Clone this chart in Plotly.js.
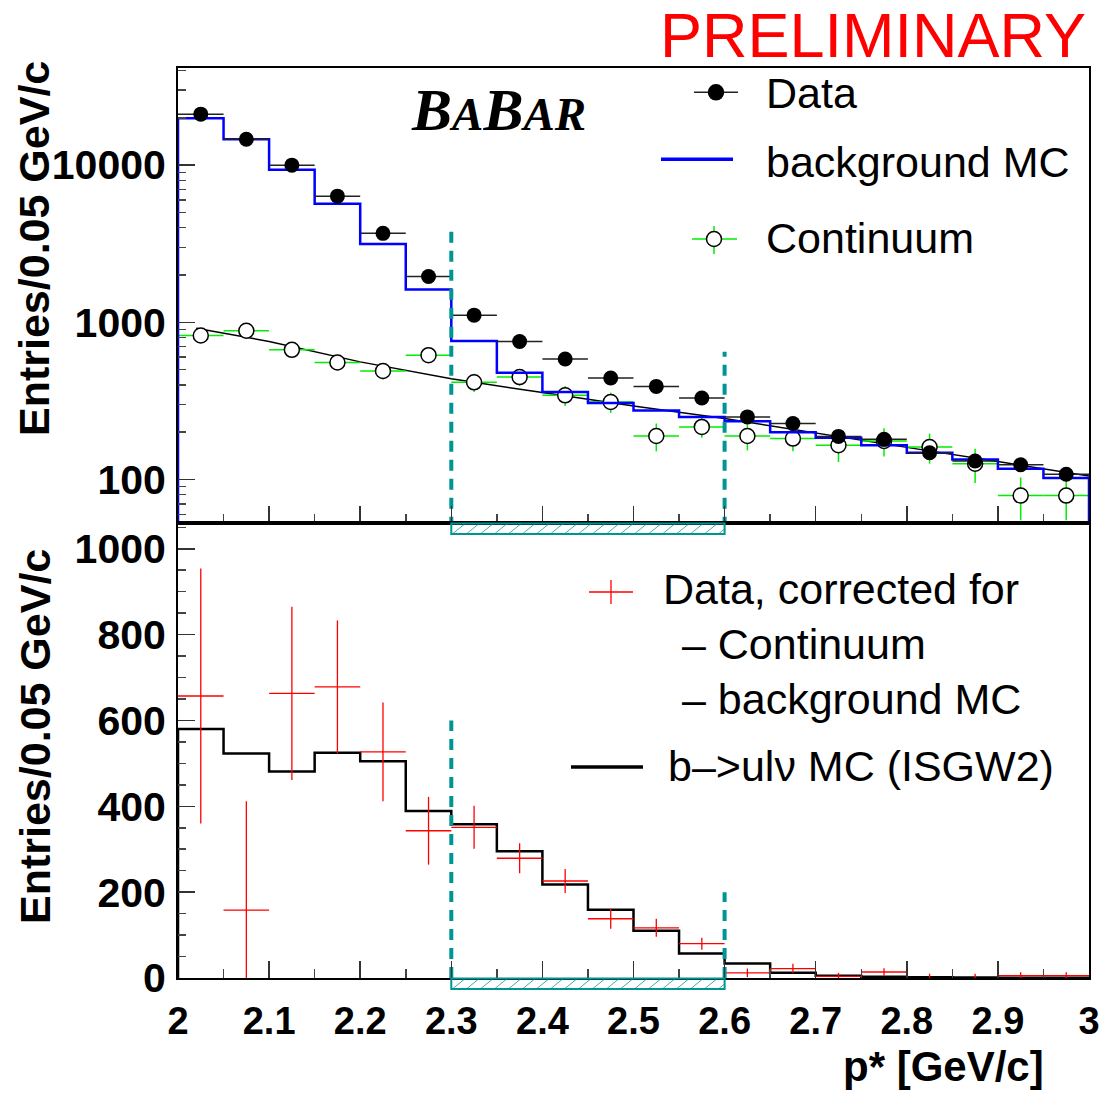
<!DOCTYPE html>
<html><head><meta charset="utf-8">
<script src="https://cdn.plot.ly/plotly-3.0.1.min.js"></script>
<style>html,body{margin:0;padding:0;background:#fff}#chart{width:1110px;height:1094px}</style>
</head><body><div id="chart"></div>
<script>
// ---------- data ----------
const binCenters = [2.025,2.075,2.125,2.175,2.225,2.275,2.325,2.375,2.425,2.475,2.525,2.575,2.625,2.675,2.725,2.775,2.825,2.875,2.925,2.975];
const binHalfWidth = 0.025;
// top panel
const dataTop    = [21100,14600,10000,6350,3680,1955,1110,755,584,442,391,330,250,227,188,180,148,131,124,108];
const dataTopErr = [145,121,100,80,61,44,33,27,24,21,20,18,16,15,14,13,12,11,11,10];
const bkgMC      = [19900,14600,9340,5680,3150,1615,759,478,360,306,275,250,235,200,184,165,148,134,117,102];
const continuum    = [824,883,668,555,490,618,415,448,343,311,189,216,189,182,165,176,161,126,79,79];
const continuumErr = [65,65,62,60,58,60,55,55,50,46,38,32,36,31,36,36,35,31,24,24];
const fitX = [2.02,2.1,2.2,2.3,2.4,2.5,2.6,2.7,2.8,2.9,3.0];
const fitY = [918,755,560,437,357,293,244,197,160,130,105];
// bottom panel
const corrData = [657,158,663,678,527,343,351,279,226,138,117,80,12,22,4,14,-2,-2,5.5,5.5];
const corrErr  = [297,254,202,155,115,79,50,35,28,23,21,14,10,11,8,9,12,12,8,8];
const bulnuMC  = [580,523,481,525,505,389,358,295,218,159,110,57,34,12,5.5,3,1.5,1,0.5,0.5];
// signal region and cut-line heights
const signalRegion = [2.3, 2.6];
const cutTopHeights = [4100, 650];
const cutBottomHeights = [600, 200];
// tick labels
const xTickVals = [2,2.1,2.2,2.3,2.4,2.5,2.6,2.7,2.8,2.9,3];
const xTickText = ['2','2.1','2.2','2.3','2.4','2.5','2.6','2.7','2.8','2.9','3'];
const topYTickVals = [100,1000,10000];
const topYTickText = ['100','1000','10000'];
const botYTickVals = [0,200,400,600,800,1000];
const botYTickText = ['0','200','400','600','800','1000'];

// ---------- geometry helpers ----------
const L = 178, R = 21, T = 68, B = 116, W = 1110, H = 1094;
const PW = W - L - R, PH = H - T - B;
const fx = p => (p - L) / PW;              // pixel x -> paper
const fy = p => (H - B - p) / PH;          // pixel y -> paper
const xpix = v => L + (v - 2) * PW;        // data x -> pixel

const FONT = 'Liberation Sans, Arial, Helvetica, sans-serif';
const TEAL = '#009494';
const GREEN = '#00ee00';

function stepXY(vals, dropTo) {
  const xs = [], ys = [];
  const first = binCenters[0] - binHalfWidth;
  const last = binCenters[binCenters.length - 1] + binHalfWidth;
  if (dropTo !== undefined) { xs.push(first); ys.push(dropTo); }
  vals.forEach((v, i) => { xs.push(binCenters[i] - binHalfWidth); ys.push(v); });
  xs.push(last); ys.push(vals[vals.length - 1]);
  if (dropTo !== undefined) { xs.push(last); ys.push(dropTo); }
  return {xs, ys};
}
function cutLines(heights, base) {
  const xs = [], ys = [];
  signalRegion.forEach((x, i) => { xs.push(x, x, null); ys.push(base, heights[i], null); });
  return {xs, ys};
}

const bkgStep = stepXY(bkgMC, 1);
const mcStep = stepXY(bulnuMC, 0);
const cutT = cutLines(cutTopHeights, 1);
const cutB = cutLines(cutBottomHeights, 0);

const traces = [
  {x: fitX, y: fitY, xaxis: 'x', yaxis: 'y', mode: 'lines', line: {color: '#000', width: 1.5}, hoverinfo: 'skip'},
  {x: binCenters, y: continuum, xaxis: 'x', yaxis: 'y', mode: 'markers',
   marker: {symbol: 'circle', size: 15, color: '#fff', line: {color: '#000', width: 1.5}},
   error_x: {type: 'constant', value: binHalfWidth, color: GREEN, thickness: 1.5, width: 0},
   error_y: {type: 'data', array: continuumErr, color: GREEN, thickness: 1.5, width: 0}},
  {x: bkgStep.xs, y: bkgStep.ys, xaxis: 'x', yaxis: 'y', mode: 'lines', line: {color: '#0000ff', width: 2.5, shape: 'hv'}},
  {x: binCenters, y: dataTop, xaxis: 'x', yaxis: 'y', mode: 'markers',
   marker: {symbol: 'circle', size: 15, color: '#000'},
   error_x: {type: 'constant', value: binHalfWidth, color: '#222', thickness: 1.5, width: 0},
   error_y: {type: 'data', array: dataTopErr, color: '#222', thickness: 1.5, width: 0}},
  {x: cutT.xs, y: cutT.ys, xaxis: 'x', yaxis: 'y', mode: 'lines', line: {color: TEAL, width: 4, dash: '11px,8px'}},
  // bottom
  {x: mcStep.xs, y: mcStep.ys, xaxis: 'x2', yaxis: 'y2', mode: 'lines', line: {color: '#000', width: 2.5, shape: 'hv'}},
  {x: binCenters, y: corrData, xaxis: 'x2', yaxis: 'y2', mode: 'markers',
   marker: {size: 1, color: '#ff0000'},
   error_x: {type: 'constant', value: binHalfWidth, color: '#ff0000', thickness: 1.3, width: 0},
   error_y: {type: 'data', array: corrErr, color: '#ff0000', thickness: 1.3, width: 0}},
  {x: cutB.xs, y: cutB.ys, xaxis: 'x2', yaxis: 'y2', mode: 'lines', line: {color: TEAL, width: 4, dash: '11px,8px'}}
];

// minor ticks
const xMinor = [];
for (let i = 0; i < 10; i++) xMinor.push(+(2.05 + i * 0.1).toFixed(2));
const logMinor = [];
[10, 100, 1000, 10000].forEach(d => { for (let m = 2; m <= 9; m++) { const v = m * d; if (v > 53 && v < 41000) logMinor.push(v); } });
const linMinor = [];
for (let v = 50; v < 1060; v += 50) if (v % 200 !== 0) linMinor.push(v);

const xTickFont = {family: FONT, size: 38, color: '#000', weight: 'bold'};
const yTickFont = {family: FONT, size: 41, color: '#000', weight: 'bold'};
const baseX = {range: [2, 3], tickmode: 'array', tickvals: xTickVals, ticks: 'inside', ticklen: 17, tickwidth: 1.5, tickcolor: '#333',
  minor: {tickmode: 'array', tickvals: xMinor, ticks: 'inside', ticklen: 9, tickwidth: 1.5, tickcolor: '#444'},
  showline: true, linecolor: '#000', linewidth: 2, mirror: true, showgrid: false, zeroline: false, fixedrange: true};

// shapes
const shapes = [];
function hatchBox(yTop, yBot) {
  const x0 = xpix(signalRegion[0]), x1 = xpix(signalRegion[1]);
  const dx = 13, s = 14, h = yBot - yTop;
  let d = '';
  for (let b = x0 - dx; b < x1; b += s) {
    let xs = b, ys = yBot, xe = b + dx, ye = yTop;
    if (xs < x0) { const t = (x0 - b) / dx; xs = x0; ys = yBot - t * h; }
    if (xe > x1) { const t = (x1 - b) / dx; xe = x1; ye = yBot - t * h; }
    if (xe <= xs) continue;
    d += `M${fx(xs)},${fy(ys)}L${fx(xe)},${fy(ye)}`;
  }
  shapes.push({type: 'path', xref: 'paper', yref: 'paper', path: d, line: {color: 'rgba(0,150,150,0.75)', width: 1}});
  shapes.push({type: 'rect', xref: 'paper', yref: 'paper', x0: fx(x0), x1: fx(x1), y0: fy(yBot), y1: fy(yTop),
    line: {color: TEAL, width: 2}, fillcolor: 'rgba(0,0,0,0)'});
}
hatchBox(523.5, 534);
hatchBox(978.5, 989);

function lineShape(x0, y0, x1, y1, color, width) {
  shapes.push({type: 'line', xref: 'paper', yref: 'paper', x0: fx(x0), y0: fy(y0), x1: fx(x1), y1: fy(y1), line: {color, width}});
}
function circleShape(cx, cy, r, fill, lineColor) {
  shapes.push({type: 'circle', xref: 'paper', yref: 'paper', x0: fx(cx - r), x1: fx(cx + r), y0: fy(cy + r), y1: fy(cy - r),
    fillcolor: fill, line: {color: lineColor, width: 1.5}});
}
// top legend symbols
lineShape(694, 92.3, 738, 92.3, '#222', 1.5);
circleShape(716, 92.3, 7.5, '#000', '#000');
lineShape(661, 159.3, 733, 159.3, '#0000ff', 3.5);
lineShape(692, 239, 737, 239, GREEN, 1.5);
lineShape(714, 226, 714, 254, GREEN, 1.5);
circleShape(714, 239, 7.5, '#fff', '#000');
// bottom legend symbols
lineShape(589, 592, 633, 592, '#ff0000', 1.3);
lineShape(611, 580, 611, 604, '#ff0000', 1.3);
lineShape(571, 767, 643, 767, '#000', 3.5);

const legFont = {family: FONT, size: 43, color: '#000'};
function textAnn(text, x, y, opts) {
  return Object.assign({text, xref: 'paper', yref: 'paper', x: fx(x), y: fy(y), xanchor: 'left', yanchor: 'middle',
    showarrow: false, font: legFont}, opts || {});
}
const annotations = [
  textAnn('Data', 764, 93),
  textAnn('background MC', 764, 162),
  textAnn('Continuum', 764, 238),
  textAnn('Data, corrected for', 661, 589),
  textAnn(' – Continuum', 668, 644),
  textAnn(' – background MC', 668, 699),
  textAnn('b–>ulν MC (ISGW2)', 666, 766),
  textAnn('PRELIMINARY', 1088, 35, {xanchor: 'right', font: {family: FONT, size: 63, color: '#ff0000'}}),
  textAnn("<b><i>B<span style='font-size:47px'>A</span>B<span style='font-size:47px'>AR</span></i></b>", 498, 110,
    {xanchor: 'center', font: {family: 'Liberation Serif, Times New Roman, serif', size: 60, color: '#000'}}),
  textAnn('Entries/0.05 GeV/c', 34, 249, {xanchor: 'center', textangle: -90, font: {family: FONT, size: 43, color: '#000', weight: 'bold'}}),
  textAnn('Entries/0.05 GeV/c', 35, 737, {xanchor: 'center', textangle: -90, font: {family: FONT, size: 43, color: '#000', weight: 'bold'}}),
  textAnn('p* [GeV/c]', 1046, 1066, {xanchor: 'right', font: {family: FONT, size: 42, color: '#000', weight: 'bold'}})
];

const layout = {
  width: W, height: H, margin: {l: L, r: R, t: T, b: B, pad: 0},
  paper_bgcolor: '#fff', plot_bgcolor: '#fff', showlegend: false,
  font: {family: FONT},
  xaxis: Object.assign({}, baseX, {anchor: 'y', showticklabels: false}),
  xaxis2: Object.assign({}, baseX, {anchor: 'y2', showticklabels: true, ticktext: xTickText, tickfont: xTickFont, ticklabelstandoff: 8}),
  yaxis: {domain: [0.5, 1], type: 'log', range: [1.723, 4.618], tickmode: 'array', tickvals: topYTickVals, ticktext: topYTickText,
    ticks: 'inside', ticklen: 17, tickwidth: 1.5, tickcolor: '#333', tickfont: yTickFont, ticklabelstandoff: 2,
    minor: {tickmode: 'array', tickvals: logMinor, ticks: 'inside', ticklen: 8, tickwidth: 1.5, tickcolor: '#444'},
    showline: true, linecolor: '#000', linewidth: 2, mirror: true, showgrid: false, zeroline: false, fixedrange: true},
  yaxis2: {domain: [0, 0.5], range: [0, 1060], tickmode: 'array', tickvals: botYTickVals, ticktext: botYTickText,
    ticks: 'inside', ticklen: 17, tickwidth: 1.5, tickcolor: '#333', tickfont: yTickFont, ticklabelstandoff: 2,
    minor: {tickmode: 'array', tickvals: linMinor, ticks: 'inside', ticklen: 8, tickwidth: 1.5, tickcolor: '#444'},
    showline: true, linecolor: '#000', linewidth: 2, mirror: true, showgrid: false, zeroline: false, fixedrange: true},
  shapes, annotations
};

Plotly.newPlot('chart', traces, layout, {displayModeBar: false, staticPlot: true});
</script>
</body></html>
